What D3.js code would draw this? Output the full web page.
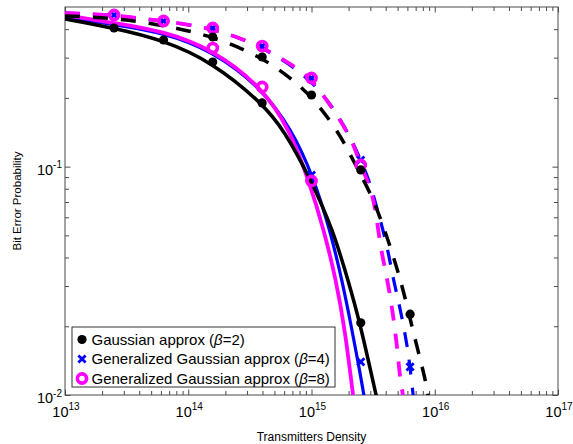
<!DOCTYPE html>
<html>
<head>
<meta charset="utf-8">
<script src="https://cdn.jsdelivr.net/npm/d3@7"></script>
<style>
  body { margin: 0; background: #fff; }
  svg { display: block; }
  text { font-family: "Liberation Sans", Arial, Helvetica, sans-serif; fill: #000; }
</style>
</head>
<body>
<svg id="chart" width="573" height="444"></svg>
<script>
// ---- data -------------------------------------------------------------
const xMajorTicks = [1e13, 1e14, 1e15, 1e16, 1e17];
const xTickExponents = ["13", "14", "15", "16", "17"];
const yMajorTicks = [1e-2, 1e-1];
const yTickExponents = ["-2", "-1"];

// analytical curves (solid)
const beta2SolidX = [1e13, 2.5e13, 6.24e13, 1.56e14, 3.97e14, 5.98e14, 9.91e14, 1.494e15, 1.977e15, 2.477e15, 3.337e15, 3.596e15];
const beta2SolidY = [0.443, 0.4046, 0.3584, 0.2872, 0.190, 0.1447, 0.0874, 0.0528, 0.0319, 0.0207, 0.0100, 0.00843];
const beta4SolidX = [1e13, 2.5e13, 6.24e13, 1.56e14, 3.97e14, 6.95e14, 1.028e15, 1.413e15, 1.768e15, 2.131e15, 2.384e15, 2.667e15, 2.768e15];
const beta4SolidY = [0.452, 0.419, 0.3866, 0.3225, 0.2200, 0.1447, 0.0910, 0.0528, 0.0319, 0.01927, 0.01396, 0.0100, 0.0086];
const beta8SolidX = [1e13, 2.5e13, 6.24e13, 1.56e14, 3.97e14, 6.69e14, 9.54e14, 1.262e15, 1.580e15, 1.870e15, 2.172e15, 2.254e15];
const beta8SolidY = [0.4613, 0.4253, 0.3926, 0.3273, 0.2232, 0.1447, 0.0865, 0.0528, 0.0319, 0.01927, 0.0100, 0.0086];

// second set of curves (dashed)
const beta2DashedX = [1e13, 2.5e13, 6.24e13, 1.56e14, 3.97e14, 7.08e14, 9.72e14, 1.641e15, 2.384e15, 2.985e15, 3.733e15, 4.58e15, 5.42e15, 6.18e15, 7.18e15, 8.34e15, 8.81e15, 9.1e15];
const beta2DashedY = [0.4567, 0.4475, 0.417, 0.3733, 0.302, 0.2395, 0.2059, 0.1447, 0.0967, 0.0774, 0.0572, 0.041, 0.0303, 0.0226, 0.01623, 0.01188, 0.0100, 0.0090];
const beta4DashedX = [1e13, 2.5e13, 6.24e13, 1.59e14, 3.97e14, 9.91e14, 1.735e15, 2.524e15, 2.985e15, 3.467e15, 4.10e15, 4.58e15, 5.22e15, 5.95e15, 6.30e15, 6.67e15, 6.9e15];
const beta4DashedY = [0.4707, 0.4613, 0.4341, 0.4046, 0.3373, 0.2444, 0.1633, 0.1069, 0.0848, 0.0633, 0.0454, 0.0325, 0.0243, 0.01673, 0.01327, 0.0100, 0.0088];
const beta8DashedX = [1e13, 2.5e13, 6.24e13, 1.59e14, 3.97e14, 7.77e14, 9.91e14, 1.735e15, 2.254e15, 2.477e15, 2.985e15, 3.337e15, 3.597e15, 4.10e15, 4.50e15, 4.94e15, 5.22e15, 5.53e15, 5.7e15];
const beta8DashedY = [0.4707, 0.4613, 0.4341, 0.4046, 0.3373, 0.2677, 0.2444, 0.160, 0.1219, 0.1017, 0.0831, 0.0633, 0.0454, 0.0325, 0.0243, 0.01656, 0.01188, 0.0100, 0.0088];

// marker points
const beta2SolidMarkX = [2.5e13, 6.3e13, 1.58e14, 3.98e14, 2.51e15];
const beta2SolidMarkY = [0.4046, 0.3584, 0.2872, 0.190, 0.0207];
const beta4SolidMarkX = [1e15, 2.51e15];
const beta4SolidMarkY = [0.0919, 0.01396];
const beta8SolidMarkX = [1.58e14, 3.98e14, 1e15];
const beta8SolidMarkY = [0.3306, 0.2232, 0.0865];

const beta2DashedMarkX = [1.58e14, 3.98e14, 1e15, 2.51e15, 6.31e15];
const beta2DashedMarkY = [0.3695, 0.302, 0.2059, 0.0967, 0.0226];
const beta4DashedMarkX = [2.5e13, 6.3e13, 1.58e14, 3.98e14, 1e15, 2.51e15, 6.31e15];
const beta4DashedMarkY = [0.4613, 0.4341, 0.4046, 0.3373, 0.2444, 0.1069, 0.01327];
const beta8DashedMarkX = [2.5e13, 6.3e13, 1.58e14, 3.98e14, 1e15, 2.51e15];
const beta8DashedMarkY = [0.4613, 0.4341, 0.4046, 0.3373, 0.2444, 0.1017];

const legendNames = ["Gaussian approx (", "Generalized Gaussian approx (", "Generalized Gaussian approx ("];
const legendBetas = ["=2)", "=4)", "=8)"];

// ---- layout -----------------------------------------------------------
const plot = { left: 65, right: 558, top: 7, bottom: 395 };
const svg = d3.select("#chart");

const x = d3.scaleLog().domain([1e13, 1e17]).range([plot.left, plot.right]);
const y = d3.scaleLog().domain([0.01, 0.5]).range([plot.bottom, plot.top]);

const axisColor = "#4a4a4a";
const colors = { beta2: "#000000", beta4: "#0000ff", beta8: "#ff00ff" };

// minor ticks 2..9 within each decade
const xMinor = [];
for (let d = 13; d < 17; d++) for (let k = 2; k <= 9; k++) xMinor.push(k * Math.pow(10, d));
const yMinor = [];
for (let k = 2; k <= 9; k++) yMinor.push(k * 0.01);
for (let k = 2; k <= 4; k++) yMinor.push(k * 0.1);

// ---- axes (box with inward ticks on all sides) -------------------------
function styleAxis(g) {
  g.select(".domain").remove();
  g.selectAll(".tick line").attr("stroke", axisColor).attr("stroke-width", 1);
  g.selectAll(".tick text").remove();
}
const majorLen = 5.5, minorLen = 4;
svg.append("g").attr("transform", `translate(0,${plot.bottom})`)
  .call(d3.axisBottom(x).tickValues(xMajorTicks).tickSize(-majorLen)).call(styleAxis);
svg.append("g").attr("transform", `translate(0,${plot.bottom})`)
  .call(d3.axisBottom(x).tickValues(xMinor).tickSize(-minorLen)).call(styleAxis);
svg.append("g").attr("transform", `translate(0,${plot.top})`)
  .call(d3.axisTop(x).tickValues(xMajorTicks).tickSize(-majorLen)).call(styleAxis);
svg.append("g").attr("transform", `translate(0,${plot.top})`)
  .call(d3.axisTop(x).tickValues(xMinor).tickSize(-minorLen)).call(styleAxis);
svg.append("g").attr("transform", `translate(${plot.left},0)`)
  .call(d3.axisLeft(y).tickValues(yMajorTicks).tickSize(-majorLen)).call(styleAxis);
svg.append("g").attr("transform", `translate(${plot.left},0)`)
  .call(d3.axisLeft(y).tickValues(yMinor).tickSize(-minorLen)).call(styleAxis);
svg.append("g").attr("transform", `translate(${plot.right},0)`)
  .call(d3.axisRight(y).tickValues(yMajorTicks).tickSize(-majorLen)).call(styleAxis);
svg.append("g").attr("transform", `translate(${plot.right},0)`)
  .call(d3.axisRight(y).tickValues(yMinor).tickSize(-minorLen)).call(styleAxis);

svg.append("rect")
  .attr("x", plot.left).attr("y", plot.top)
  .attr("width", plot.right - plot.left).attr("height", plot.bottom - plot.top)
  .attr("fill", "none").attr("stroke", axisColor).attr("stroke-width", 1);

// tick labels as 10 with superscript exponent
xMajorTicks.forEach((v, i) => {
  const t = svg.append("text").attr("x", x(v) + 1).attr("y", 416.5)
    .attr("text-anchor", "middle").attr("font-size", 14.5);
  t.append("tspan").text("10");
  t.append("tspan").attr("dy", -6.5).attr("font-size", 10).text(xTickExponents[i]);
});
yMajorTicks.forEach((v, i) => {
  const t = svg.append("text").attr("x", 62).attr("y", y(v) + 8)
    .attr("text-anchor", "end").attr("font-size", 14.5);
  t.append("tspan").text("10");
  t.append("tspan").attr("dy", -6.5).attr("font-size", 10).text(yTickExponents[i]);
});

svg.append("text").attr("x", (plot.left + plot.right) / 2).attr("y", 441)
  .attr("text-anchor", "middle").attr("font-size", 12).text("Transmitters Density");
svg.append("text")
  .attr("transform", `translate(21,${(plot.top + plot.bottom) / 2}) rotate(-90)`)
  .attr("text-anchor", "middle").attr("font-size", 11.5).text("Bit Error Probability");

// ---- curves -------------------------------------------------------------
svg.append("clipPath").attr("id", "plotClip").append("rect")
  .attr("x", plot.left).attr("y", plot.top)
  .attr("width", plot.right - plot.left).attr("height", plot.bottom - plot.top);
const layer = svg.append("g").attr("clip-path", "url(#plotClip)");

const line = d3.line().x(d => x(d[0])).y(d => y(d[1])).curve(d3.curveBasis);
const zip = (xs, ys) => xs.map((v, i) => [v, ys[i]]);

const curves = [
  { xs: beta4SolidX, ys: beta4SolidY, color: colors.beta4, dash: null, w: 3.2 },
  { xs: beta8SolidX, ys: beta8SolidY, color: colors.beta8, dash: null, w: 3.8 },
  { xs: beta2SolidX, ys: beta2SolidY, color: colors.beta2, dash: null, w: 3.5 },
  { xs: beta4DashedX, ys: beta4DashedY, color: colors.beta4, dash: "15,13", w: 3.2 },
  { xs: beta8DashedX, ys: beta8DashedY, color: colors.beta8, dash: "15,13", w: 3.8 },
  { xs: beta2DashedX, ys: beta2DashedY, color: colors.beta2, dash: "15,13", w: 3.5 }
];
curves.forEach(c => {
  layer.append("path").attr("d", line(zip(c.xs, c.ys)))
    .attr("fill", "none").attr("stroke", c.color).attr("stroke-width", c.w)
    .attr("stroke-dasharray", c.dash);
});

// ---- markers ------------------------------------------------------------
function dotMarker(g, cx, cy) {
  g.append("circle").attr("cx", cx).attr("cy", cy).attr("r", 4.6).attr("fill", colors.beta2);
}
function crossMarker(g, cx, cy) {
  const s = 3.6;
  g.append("path").attr("d", `M${cx - s},${cy - s}L${cx + s},${cy + s}M${cx - s},${cy + s}L${cx + s},${cy - s}`)
    .attr("stroke", colors.beta4).attr("stroke-width", 2.8).attr("fill", "none");
}
function ringMarker(g, cx, cy) {
  g.append("circle").attr("cx", cx).attr("cy", cy).attr("r", 4.6)
    .attr("fill", "none").attr("stroke", colors.beta8).attr("stroke-width", 3.6);
}
const markerSets = [
  { xs: beta4SolidMarkX, ys: beta4SolidMarkY, draw: crossMarker },
  { xs: beta4DashedMarkX, ys: beta4DashedMarkY, draw: crossMarker },
  { xs: beta8SolidMarkX, ys: beta8SolidMarkY, draw: ringMarker },
  { xs: beta8DashedMarkX, ys: beta8DashedMarkY, draw: ringMarker },
  { xs: beta2SolidMarkX, ys: beta2SolidMarkY, draw: dotMarker },
  { xs: beta2DashedMarkX, ys: beta2DashedMarkY, draw: dotMarker }
];
markerSets.forEach(m => m.xs.forEach((v, i) => m.draw(layer, x(v), y(m.ys[i]))));

// ---- legend ---------------------------------------------------------------
const lg = svg.append("g");
lg.append("rect").attr("x", 72).attr("y", 327).attr("width", 263).attr("height", 60)
  .attr("fill", "#fff").attr("stroke", "#333").attr("stroke-width", 1);
const legendDraw = [dotMarker, crossMarker, ringMarker];
legendNames.forEach((name, i) => {
  const cy = 339.5 + i * 19.5;
  legendDraw[i](lg, 82, cy);
  const t = lg.append("text").attr("x", 91.5).attr("y", cy + 5.3).attr("font-size", 15);
  t.append("tspan").text(name);
  t.append("tspan").attr("font-style", "italic").text("\u03B2");
  t.append("tspan").text(legendBetas[i]);
});
</script>
</body>
</html>
